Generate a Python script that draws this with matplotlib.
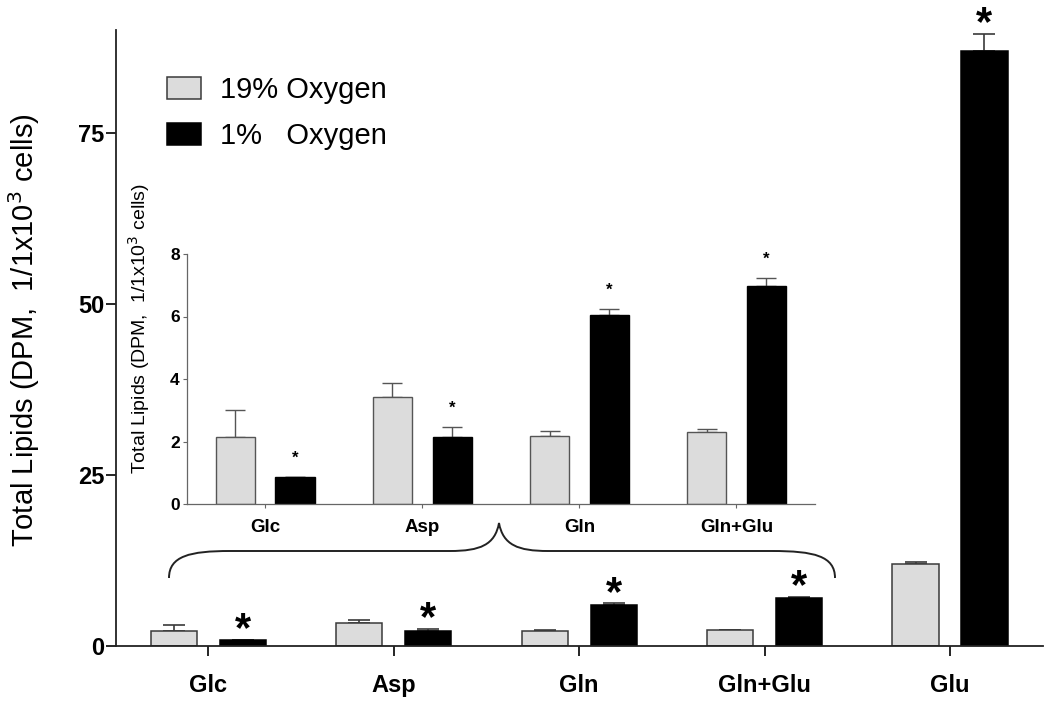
import matplotlib
matplotlib.use("Agg")
import matplotlib.pyplot as plt
import numpy as np
from matplotlib.path import Path
from matplotlib.patches import PathPatch

plt.rcParams['font.family'] = ['Liberation Sans', 'DejaVu Sans']

# ---------------- data ----------------
main_categories = ["Glc", "Asp", "Gln", "Gln+Glu", "Glu"]
main_normoxia = [2.13, 3.41, 2.19, 2.30, 12.05]
main_normoxia_err = [0.87, 0.45, 0.16, 0.10, 0.25]
main_hypoxia = [0.85, 2.15, 6.05, 6.98, 87.0]
main_hypoxia_err = [0.03, 0.32, 0.18, 0.25, 2.4]
main_yticks = [0, 25, 50, 75]

inset_categories = ["Glc", "Asp", "Gln", "Gln+Glu"]
inset_normoxia = [2.13, 3.41, 2.19, 2.30]
inset_normoxia_err = [0.87, 0.45, 0.16, 0.10]
inset_hypoxia = [0.85, 2.15, 6.05, 6.98]
inset_hypoxia_err = [0.03, 0.32, 0.18, 0.25]
inset_yticks = [0, 2, 4, 6, 8]

legend_labels = ["19% Oxygen", "1%   Oxygen"]
ylabel_text = "Total Lipids (DPM,  1/1x10$^3$ cells)"

LIGHT = "#dcdcdc"
EDGE = "#3a3a3a"
W, H = 1050, 711

fig = plt.figure(figsize=(W / 100, H / 100), dpi=100)

# ---------------- main axes ----------------
ax = fig.add_axes([115.7 / W, (H - 646) / H, 927 / W, 616 / H])
x = np.arange(len(main_categories))
bw, off = 0.25, 0.186
ax.bar(x - off, main_normoxia, bw, color=LIGHT, edgecolor=EDGE, linewidth=1.1,
       label=legend_labels[0], zorder=2)
ax.bar(x + off, main_hypoxia, bw, color="black", edgecolor="black", linewidth=1.1,
       label=legend_labels[1], zorder=2)
ax.errorbar(x - off, main_normoxia, yerr=[np.zeros(len(x)), main_normoxia_err],
            fmt="none", ecolor=EDGE, elinewidth=1.2, capsize=8, capthick=1.2, zorder=1)
ax.errorbar(x + off, main_hypoxia, yerr=[np.zeros(len(x)), main_hypoxia_err],
            fmt="none", ecolor=EDGE, elinewidth=1.2, capsize=8, capthick=1.2, zorder=1)
for xi, v, e in zip(x, main_hypoxia, main_hypoxia_err):
    ax.annotate("*", (xi + off, v + e), xytext=(0, -7.5), textcoords="offset points",
                ha="center", va="bottom", fontsize=30, fontweight="bold")

ax.set_xlim(-0.5, 4.5)
ax.set_ylim(0, 90)
ax.set_yticks(main_yticks)
ax.set_yticklabels([str(t) for t in main_yticks], fontsize=17, fontweight="bold")
ax.set_xticks(x)
ax.set_xticklabels(main_categories, fontsize=17, fontweight="bold")
ax.tick_params(axis="y", length=7, width=1.2, pad=1)
ax.tick_params(axis="x", length=7, width=1.2, pad=13)
for s in ["top", "right"]:
    ax.spines[s].set_visible(False)
for s in ["left", "bottom"]:
    ax.spines[s].set_linewidth(1.3)
    ax.spines[s].set_color("#222222")
ax.set_ylabel(ylabel_text, fontsize=21)
ax.yaxis.set_label_coords(-0.079, 0.513)

ax.legend(loc="upper left", bbox_to_anchor=(0.055, 0.925), frameon=False,
          fontsize=21, handlelength=1.17, handleheight=0.78, handletextpad=0.65,
          labelspacing=0.6, borderpad=0, borderaxespad=0)

# ---------------- inset axes ----------------
ia = fig.add_axes([186.7 / W, (H - 504) / H, (815 - 186.7) / W, 250 / H])
xi_ = np.arange(len(inset_categories))
ibw, ioff = 0.25, 0.19
ia.bar(xi_ - ioff, inset_normoxia, ibw, color=LIGHT, edgecolor="#555555",
       linewidth=1.0, zorder=2)
ia.bar(xi_ + ioff, inset_hypoxia, ibw, color="black", edgecolor="black",
       linewidth=1.0, zorder=2)
ia.errorbar(xi_ - ioff, inset_normoxia, yerr=[np.zeros(len(xi_)), inset_normoxia_err],
            fmt="none", ecolor="#555555", elinewidth=1.0, capsize=7, capthick=1.0, zorder=1)
ia.errorbar(xi_ + ioff, inset_hypoxia, yerr=[np.zeros(len(xi_)), inset_hypoxia_err],
            fmt="none", ecolor="#555555", elinewidth=1.0, capsize=7, capthick=1.0, zorder=1)
for xv, v, e in zip(xi_, inset_hypoxia, inset_hypoxia_err):
    ia.annotate("*", (xv + ioff, v + e), xytext=(0, 8), textcoords="offset points",
                ha="center", va="bottom", fontsize=12, fontweight="bold")
ia.set_xlim(-0.5, 3.5)
ia.set_ylim(0, 8)
ia.set_yticks(inset_yticks)
ia.set_yticklabels([str(t) for t in inset_yticks], fontsize=12.5, fontweight="bold")
ia.set_xticks(xi_)
ia.set_xticklabels(inset_categories, fontsize=13.5, fontweight="bold")
ia.tick_params(axis="both", length=3, width=0.8, color="#666666", pad=2)
ia.tick_params(axis="x", pad=8)
for s in ["top", "right"]:
    ia.spines[s].set_visible(False)
for s in ["left", "bottom"]:
    ia.spines[s].set_linewidth(0.9)
    ia.spines[s].set_color("#666666")
ia.set_ylabel(ylabel_text, fontsize=14)
ia.yaxis.set_label_coords(-0.055, 0.70)
ia.patch.set_alpha(0)

# ---------------- brace (figure pixel coordinates) ----------------
def P(px, py):
    return (px / W, (H - py) / H)

verts = [P(169, 578),
         P(169, 556), P(190, 551), P(230, 551),
         P(450, 551),
         P(480, 551), P(495, 545), P(499, 523),
         P(503, 545), P(518, 551), P(548, 551),
         P(772, 551),
         P(814, 551), P(835, 556), P(835, 578)]
codes = [Path.MOVETO,
         Path.CURVE4, Path.CURVE4, Path.CURVE4,
         Path.LINETO,
         Path.CURVE4, Path.CURVE4, Path.CURVE4,
         Path.CURVE4, Path.CURVE4, Path.CURVE4,
         Path.LINETO,
         Path.CURVE4, Path.CURVE4, Path.CURVE4]
fig.patches.append(PathPatch(Path(verts, codes), transform=fig.transFigure,
                             fill=False, edgecolor="#222222", linewidth=1.4))

fig.savefig("out.png", dpi=100)
